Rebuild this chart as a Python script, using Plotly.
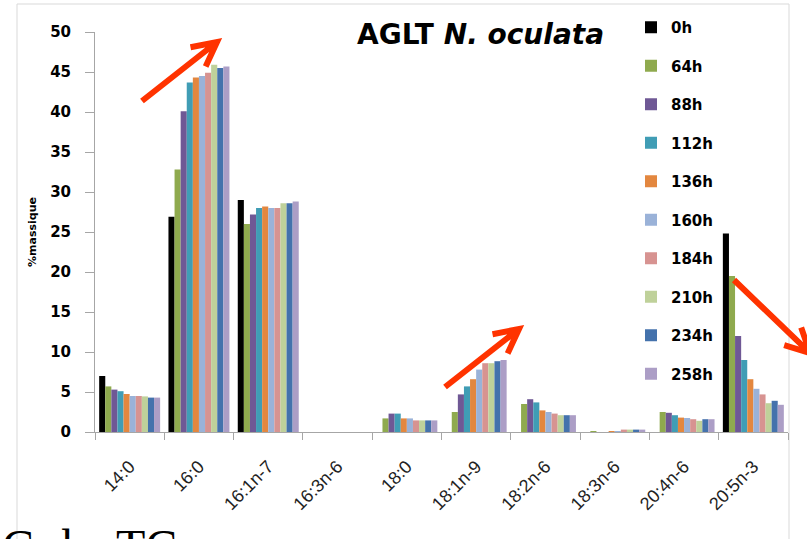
import plotly.graph_objects as go
import math

categories = ["14:0", "16:0", "16:1n-7", "16:3n-6", "18:0", "18:1n-9",
              "18:2n-6", "18:3n-6", "20:4n-6", "20:5n-3"]

series_names = ["0h", "64h", "88h", "112h", "136h", "160h", "184h", "210h", "234h", "258h"]

v_0h   = [7.0, 26.9, 29.0, 0.0, 0.0, 0.0, 0.0, 0.0, 0.0, 24.8]
v_64h  = [5.7, 32.8, 26.0, 0.0, 1.7, 2.5, 3.5, 0.1, 2.5, 19.5]
v_88h  = [5.3, 40.1, 27.2, 0.0, 2.3, 4.7, 4.1, 0.0, 2.4, 12.0]
v_112h = [5.1, 43.7, 28.0, 0.0, 2.3, 5.7, 3.7, 0.0, 2.1, 9.0]
v_136h = [4.75, 44.3, 28.2, 0.0, 1.7, 6.6, 2.7, 0.1, 1.8, 6.6]
v_160h = [4.5, 44.5, 28.0, 0.0, 1.7, 7.8, 2.5, 0.1, 1.75, 5.4]
v_184h = [4.5, 44.9, 28.0, 0.0, 1.45, 8.6, 2.3, 0.3, 1.6, 4.7]
v_210h = [4.45, 45.9, 28.6, 0.0, 1.45, 8.6, 2.1, 0.3, 1.4, 3.6]
v_234h = [4.3, 45.5, 28.6, 0.0, 1.45, 8.85, 2.1, 0.3, 1.6, 3.9]
v_258h = [4.3, 45.7, 28.8, 0.0, 1.45, 9.0, 2.1, 0.3, 1.6, 3.4]

series_values = [v_0h, v_64h, v_88h, v_112h, v_136h, v_160h, v_184h, v_210h, v_234h, v_258h]

colors = ["#000000", "#8FAA4E", "#6F5895", "#409DB5", "#E3873F",
          "#9AB2D8", "#D79391", "#BFD19A", "#4472AC", "#AC9EC6"]

fig = go.Figure()
for name, vals, col in zip(series_names, series_values, colors):
    fig.add_trace(go.Bar(x=categories, y=vals, name=name, legendgroup=name,
                         marker=dict(color=col, line=dict(width=0))))

# layout geometry (pixels)
W, H = 807, 539
L, R, T, B = 95, 19, 32, 107
pw, ph = W - L - R, H - T - B

def px2paper(px, py):
    return (px - L) / pw, (H - B - py) / ph

# arrows (tail, tip) in pixel positions
arrows = [((142, 101), (217, 42)), ((445, 387), (519, 329)), ((734, 280), (810, 353))]
shapes = []
for (sx, sy), (tx, ty) in arrows:
    dx, dy = tx - sx, ty - sy
    n = math.hypot(dx, dy)
    ux, uy = dx / n, dy / n
    pts = []
    for s in (1, -1):
        a = math.radians(27) * s
        rx = ux * math.cos(a) - uy * math.sin(a)
        ry = ux * math.sin(a) + uy * math.cos(a)
        pts.append((tx - 27 * rx, ty - 27 * ry))
    P = lambda x, y: "%.4f,%.4f" % px2paper(x, y)
    path = "M%s L%s M%s L%s L%s" % (P(sx, sy), P(tx, ty), P(*pts[0]), P(tx, ty), P(*pts[1]))
    shapes.append(dict(type="path", xref="paper", yref="paper", path=path,
                       line=dict(color="#FF3300", width=6)))

# frame
fx0, fy0 = px2paper(17, 4)
fx1, fy1 = px2paper(789, 545)
shapes.append(dict(type="rect", xref="paper", yref="paper", x0=fx0, y0=fy1, x1=fx1, y1=fy0,
                   line=dict(color="#D9D9D9", width=1), layer="below"))

tx_, ty_ = px2paper(480, 34)
annotations = [dict(xref="paper", yref="paper", x=tx_, y=ty_, xanchor="center", yanchor="middle",
                    text="AGLT <i>N. oculata</i>", showarrow=False,
                    font=dict(family="DejaVu Sans", size=28, color="black", weight="bold"))]
for txt, xp in [("C", 0), ("b", 60), ("TC", 114)]:
    ax_, ay_ = px2paper(xp, 518)
    annotations.append(dict(xref="paper", yref="paper", x=ax_, y=ay_, xanchor="left", yanchor="top",
                            text=txt, showarrow=False,
                            font=dict(family="Liberation Serif", size=48, color="black")))

lx, ly = px2paper(631, 11)
fig.update_layout(
    width=W, height=H,
    margin=dict(l=L, r=R, t=T, b=B, autoexpand=False),
    paper_bgcolor="white", plot_bgcolor="white",
    barmode="group", bargap=0.12, bargroupgap=0,
    showlegend=True,
    legend=dict(x=lx, y=ly, xanchor="left", yanchor="top", bgcolor="rgba(0,0,0,0)",
                font=dict(family="DejaVu Sans", size=15, color="black", weight="bold"),
                tracegroupgap=16, traceorder="grouped", maxheight=530),
    shapes=shapes, annotations=annotations,
    xaxis=dict(type="category", showgrid=False, showline=True, linecolor="#A6A6A6", linewidth=1,
               automargin=False,
               ticks="outside", tickson="boundaries", ticklen=7, tickcolor="#A6A6A6",
               tickangle=-45, ticklabelstandoff=16,
               tickfont=dict(family="Liberation Sans", size=18, color="#222222")),
    yaxis=dict(range=[0, 50], dtick=5, showgrid=False, zeroline=False, showline=True,
               automargin=False,
               linecolor="#A6A6A6", linewidth=1, ticks="outside", ticklen=9, tickcolor="#A6A6A6",
               ticklabelstandoff=11,
               tickfont=dict(family="DejaVu Sans", size=15, color="black", weight="bold"),
               title=dict(text="%massique", standoff=11,
                          font=dict(family="DejaVu Sans", size=11, color="black", weight="bold"))),
)

fig.write_html("out.html", config={"displayModeBar": False},
               post_script="document.body.style.margin='0';document.body.style.padding='0';")
